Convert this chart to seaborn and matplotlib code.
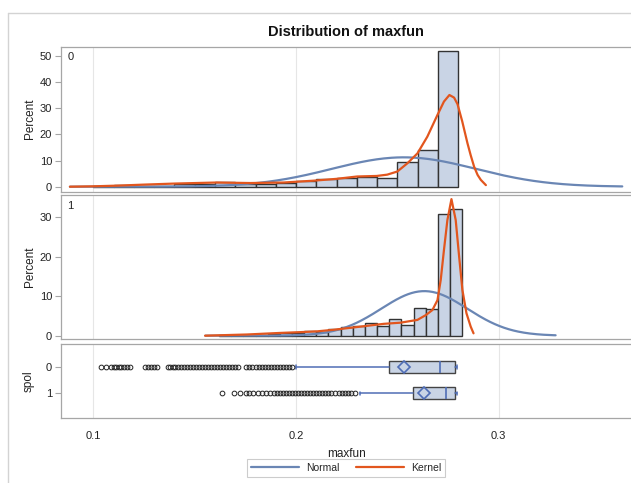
import numpy as np
import pandas as pd
import matplotlib
matplotlib.use("Agg")
import matplotlib.pyplot as plt
from matplotlib.lines import Line2D
import seaborn as sns

# ---------------- data ----------------
groups = ["0", "1"]

# group 0 histogram (bin width 0.01)
edges0 = [0.10, 0.11, 0.12, 0.13, 0.14, 0.15, 0.16, 0.17, 0.18, 0.19,
          0.20, 0.21, 0.22, 0.23, 0.24, 0.25, 0.26, 0.27, 0.28]
pct0 = [0.3, 0.5, 0.3, 0.4, 1.1, 1.1, 1.9, 1.1, 1.1, 1.4,
        2.2, 2.9, 3.4, 3.8, 3.2, 9.4, 14.0, 51.6]

# group 1 histogram (bin width 0.006)
edges1 = [0.162, 0.168, 0.174, 0.180, 0.186, 0.192, 0.198, 0.204, 0.210,
          0.216, 0.222, 0.228, 0.234, 0.240, 0.246, 0.252, 0.258, 0.264,
          0.270, 0.276, 0.282]
pct1 = [0.1, 0.2, 0.2, 0.3, 0.35, 0.75, 0.8, 1.2, 0.9,
        1.6, 2.2, 2.5, 3.1, 2.4, 4.3, 2.7, 7.0, 6.85, 30.8, 32.0]

# fitted normal parameters
norm_mean = [0.2532, 0.2633]
norm_sd = [0.0356, 0.0212]
norm_binw = [0.01, 0.006]
norm_range = [(0.0884, 0.3610), (0.1553, 0.3281)]

# kernel density curves (percent scale)
kern0_x = [0.0884, 0.100, 0.1115, 0.125, 0.1402, 0.1609, 0.1774, 0.1939,
           0.2087, 0.2200, 0.2302, 0.2398, 0.2450, 0.2500, 0.2549, 0.2599,
           0.2648, 0.2698, 0.2730, 0.2757, 0.2780, 0.2797, 0.2820, 0.2846,
           0.2862, 0.2879, 0.2896, 0.2912, 0.2937]
kern0_y = [0.0, 0.15, 0.4, 0.8, 1.2, 1.6, 1.4, 1.6,
           2.3, 3.0, 3.9, 4.1, 4.6, 5.8, 8.9, 12.7,
           19.1, 27.4, 32.5, 35.0, 34.0, 31.5, 25.0, 16.6,
           12.0, 7.6, 4.5, 2.6, 0.6]
kern1_x = [0.1551, 0.1757, 0.1922, 0.2021, 0.2104, 0.2186, 0.2269, 0.2351,
           0.2433, 0.2516, 0.2599, 0.2640, 0.2673, 0.2698, 0.2714, 0.2730,
           0.2747, 0.2767, 0.2788, 0.2805, 0.2821, 0.2841, 0.2862, 0.2876]
kern1_y = [0.0, 0.3, 0.7, 0.9, 1.1, 1.5, 2.0, 2.5,
           3.0, 3.3, 4.0, 5.2, 6.5, 9.0, 14.1, 21.7,
           29.3, 34.6, 29.3, 20.0, 11.6, 5.7, 2.3, 0.6]

# box plot statistics
box_whislo = [0.2000, 0.2316]
box_q1 = [0.2458, 0.2577]
box_med = [0.2711, 0.2742]
box_mean = [0.2532, 0.2631]
box_q3 = [0.2786, 0.2786]
box_whishi = [0.2793, 0.2793]
out0 = [0.1035, 0.1060, 0.1085, 0.1100, 0.1112, 0.1125, 0.1138, 0.1150, 0.1165,
        0.1180, 0.1255, 0.1270, 0.1285, 0.1300, 0.1315, 0.1370, 0.1380, 0.1392,
        0.1405, 0.1418, 0.1430, 0.1445, 0.1460, 0.1475, 0.1490, 0.1505, 0.1520,
        0.1535, 0.1550, 0.1565, 0.1580, 0.1595, 0.1610, 0.1625, 0.1640, 0.1655,
        0.1670, 0.1685, 0.1700, 0.1715, 0.1755, 0.1770, 0.1785, 0.1800, 0.1815,
        0.1830, 0.1845, 0.1860, 0.1875, 0.1890, 0.1905, 0.1920, 0.1935, 0.1950,
        0.1965, 0.1980]
out1 = [0.1635, 0.1692, 0.1722, 0.1752, 0.1770, 0.1790, 0.1810, 0.1830, 0.1850,
        0.1870, 0.1890, 0.1905, 0.1920, 0.1935, 0.1950, 0.1965, 0.1980, 0.1995,
        0.2010, 0.2025, 0.2040, 0.2055, 0.2070, 0.2085, 0.2100, 0.2115, 0.2130,
        0.2145, 0.2160, 0.2175, 0.2190, 0.2210, 0.2225, 0.2240, 0.2255, 0.2270,
        0.2290]

xticks = [0.1, 0.2, 0.3]
xtick_labels = ["0.1", "0.2", "0.3"]

# ---------------- styling ----------------
sns.set_style("white")
plt.rcParams["font.family"] = ["Liberation Sans", "DejaVu Sans"]

FILL = "#C9D4E5"
EDGE = "#333333"
NORMAL_C = "#6A86B4"
KERNEL_C = "#E2561E"
BLUE = "#4F6DB5"
SPINE = "#A6A6A6"
GRID = "#E6E6E6"

W, H = 631, 483
fig = plt.figure(figsize=(W / 100, H / 100), dpi=100)

def px_axes(left, top, right, bottom):
    return fig.add_axes([left / W, 1 - bottom / H, (right - left) / W, (bottom - top) / H])

# outer frame
fig.add_artist(Line2D([7.5 / W, 7.5 / W], [0, 1 - 13 / H], color="#D3D3D3", lw=1.0))
fig.add_artist(Line2D([7.5 / W, 1], [1 - 13 / H, 1 - 13 / H], color="#D3D3D3", lw=1.0))

XL = (0.0840, 0.3663)
ax0 = px_axes(61, 46.7, 633, 191.5)
ax1 = px_axes(61, 195.3, 633, 339.0)
axb = px_axes(61, 344.0, 633, 418.3)

def style(ax):
    ax.set_xlim(*XL)
    ax.set_xticks(xticks)
    ax.grid(axis="x", color=GRID, lw=0.8)
    ax.grid(axis="y", visible=False)
    ax.set_axisbelow(True)
    for s in ax.spines.values():
        s.set_color(SPINE)
        s.set_linewidth(0.9)
    ax.tick_params(axis="y", left=True, length=4.3, width=0.8, color=SPINE,
                   labelsize=8, pad=2, labelcolor="#222222")

hists = [(ax0, edges0, pct0, (-1.83, 53.43), [0, 10, 20, 30, 40, 50]),
         (ax1, edges1, pct1, (-0.84, 35.57), [0, 10, 20, 30])]
kerns = [(kern0_x, kern0_y), (kern1_x, kern1_y)]

for i, (ax, edges, pct, yl, yt) in enumerate(hists):
    style(ax)
    centers = [(edges[k] + edges[k + 1]) / 2 for k in range(len(pct))]
    sns.histplot(x=centers, weights=pct, bins=edges, ax=ax, stat="count",
                 color=FILL, edgecolor=EDGE, linewidth=1.0, alpha=1.0)
    lo, hi = norm_range[i]
    xs = np.linspace(lo, hi, 300)
    ys = 100 * norm_binw[i] / (norm_sd[i] * np.sqrt(2 * np.pi)) * \
        np.exp(-0.5 * ((xs - norm_mean[i]) / norm_sd[i]) ** 2)
    sns.lineplot(x=xs, y=ys, ax=ax, color=NORMAL_C, lw=1.6, sort=False)
    kx, ky = kerns[i]
    sns.lineplot(x=kx, y=ky, ax=ax, color=KERNEL_C, lw=1.6, sort=False)
    ax.set_ylim(*yl)
    ax.set_yticks(yt)
    ax.set_yticklabels([str(v) for v in yt])
    ax.set_xticklabels([])
    ax.tick_params(axis="x", bottom=False, length=0)
    ax.set_xlabel("")
    ax.set_ylabel("Percent", fontsize=8.5, labelpad=3, color="#222222")
    ax.text(0.0166, 0.929, groups[i], transform=ax.transAxes, fontsize=8,
            ha="center", va="center", color="#222222")

# box plot panel
style(axb)
stats = []
outs = [out0, out1]
for i in range(2):
    stats.append(dict(whislo=box_whislo[i], q1=box_q1[i], med=box_med[i],
                      mean=box_mean[i], q3=box_q3[i], whishi=box_whishi[i],
                      fliers=outs[i], label=groups[i]))
kw = dict(positions=[0, 1], widths=0.46, showmeans=True, meanline=False,
          patch_artist=True, capwidths=0.14,
          boxprops=dict(facecolor=FILL, edgecolor="#444444", linewidth=1.0),
          medianprops=dict(color=BLUE, linewidth=1.2),
          whiskerprops=dict(color=BLUE, linewidth=1.1),
          capprops=dict(color=BLUE, linewidth=1.1),
          meanprops=dict(marker="D", markerfacecolor="none", markeredgecolor=BLUE,
                         markersize=6.5, markeredgewidth=1.2),
          flierprops=dict(marker="o", markerfacecolor="none", markeredgecolor="#222222",
                          markersize=3.4, markeredgewidth=0.7))
try:
    axb.bxp(stats, orientation="horizontal", **kw)
except TypeError:
    axb.bxp(stats, vert=False, **kw)
axb.set_xlim(*XL)
axb.set_ylim(1.96, -0.896)
axb.set_yticks([0, 1])
axb.set_yticklabels(groups)
axb.set_xticks(xticks)
axb.set_xticklabels(xtick_labels)
axb.tick_params(axis="x", bottom=False, length=0, pad=9, labelsize=8, labelcolor="#222222")
axb.set_ylabel("spol", fontsize=8.5, labelpad=8, color="#222222")
axb.set_xlabel("maxfun", fontsize=8.5, labelpad=5, color="#222222")

fig.text(346 / W, 1 - 32 / H, "Distribution of maxfun", ha="center", va="center",
         fontsize=10.5, fontweight="bold", color="#111111")

handles = [Line2D([], [], color=NORMAL_C, lw=1.6), Line2D([], [], color=KERNEL_C, lw=1.6)]
leg = fig.legend(handles, ["Normal", "Kernel"], loc="center",
                 bbox_to_anchor=(346 / W, 1 - 468 / H), ncol=2, fontsize=7.5,
                 frameon=True, fancybox=False, edgecolor="#C0C0C0",
                 handlelength=4.6, columnspacing=1.6, borderpad=0.35,
                 handletextpad=0.7)
leg.get_frame().set_linewidth(0.8)

fig.savefig("out.png", dpi=100)
